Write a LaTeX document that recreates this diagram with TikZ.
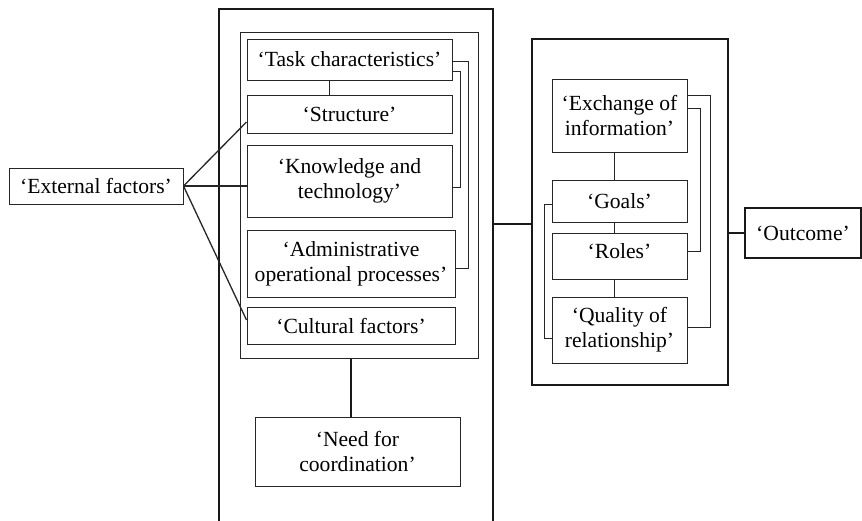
\documentclass[tikz,border=0pt]{standalone}
\usepackage{fontspec}
\setmainfont{Liberation Serif}

\begin{document}
\begin{tikzpicture}[x=1pt,y=-1pt,
  box/.style={draw=black!85, line width=1pt, align=center, inner sep=0pt, font=\fontsize{21.6}{25}\selectfont},
  frame/.style={draw=black!90, line width=1.7pt, inner sep=0pt},
  link/.style={draw=black!85, line width=1pt},
  heavy/.style={draw=black!90, line width=1.8pt}]

\path[use as bounding box, clip] (0,0) rectangle (862,520);

% left part: organisation
\node[frame, minimum width=274, minimum height=526] (org) at (356,272) {};
\node[box, minimum width=238, minimum height=326] (inner) at (359,195) {};
\node[box, minimum width=205, minimum height=41] (task) at (349.5,59.5) {‘Task characteristics’};
\node[box, minimum width=205, minimum height=38] (structure) at (349.5,114) {‘Structure’};
\node[box, minimum width=205, minimum height=72] (knowledge) at (349.5,181) {‘Knowledge and\\technology’};
\node[box, minimum width=208, minimum height=67] (admin) at (351,263.5) {‘Administrative\\operational processes’};
\node[box, minimum width=208, minimum height=37] (cultural) at (351,325.5) {‘Cultural factors’};
\node[box, minimum width=205, minimum height=69] (need) at (357.5,451.5) {‘Need for\\coordination’};

\node[box, minimum width=174, minimum height=36] (external) at (96,186) {‘External factors’};

% middle part: coordination
\node[frame, minimum width=196, minimum height=346] (mid) at (630,212) {};
\node[box, minimum width=135, minimum height=73] (exchange) at (619.5,115.5) {‘Exchange of\\information’};
\node[box, minimum width=135, minimum height=42] (goals) at (619.5,201) {‘Goals’};
\node[box, minimum width=135, minimum height=46, text depth=9pt] (roles) at (619.5,256) {‘Roles’};
\node[box, minimum width=135, minimum height=66] (quality) at (619.5,330) {‘Quality of\\relationship’};

\node[frame, minimum width=116, minimum height=50, font=\fontsize{21.6}{25}\selectfont] (outcome) at (803,233) {‘Outcome’};

\coordinate (join) at (510,224);

% connectors
\draw[link] ([xshift=-20pt]task.south) -- ([xshift=-20pt]structure.north);
\draw[link] ([yshift=-1.5pt]task.east) -- ++(16,0) |- ([yshift=-4.5pt]admin.east);
\draw[link] ([yshift=-11.5pt]task.east) -- ++(8,0) |- ([yshift=-6pt]knowledge.east);

\draw[link, line width=1.3pt] (external.east) -- ([yshift=-8pt]structure.west);
\draw[link, line width=1.3pt] (external.east) -- (external.east -| knowledge.west);
\draw[link, line width=1.3pt] (external.east) -- ([yshift=5.5pt]cultural.west);

\draw[heavy] ([xshift=-8pt]inner.south) -- ([xshift=-8pt]inner.south |- need.north);
\draw[heavy] (join -| org.east) -- (join -| mid.west);
\draw[heavy] (outcome.west -| mid.east) -- (outcome.west);

\draw[link] ([xshift=-5.5pt]exchange.south) -- ([xshift=-5.5pt]goals.north);
\draw[link] ([xshift=-5.5pt]goals.south) -- ([xshift=-5.5pt]roles.north);
\draw[link] ([xshift=-5.5pt]roles.south) -- ([xshift=-5.5pt]quality.north);
\draw[link] ([yshift=20.5pt]exchange.east) -- ++(23,0) |- ([yshift=3pt]quality.east);
\draw[link] ([yshift=7.5pt]exchange.east) -- ++(13,0) |- ([yshift=5pt]roles.east);
\draw[link] ([yshift=-3pt]goals.west) -- ++(-7,0) |- ([yshift=-8pt]quality.west);

\end{tikzpicture}
\end{document}
